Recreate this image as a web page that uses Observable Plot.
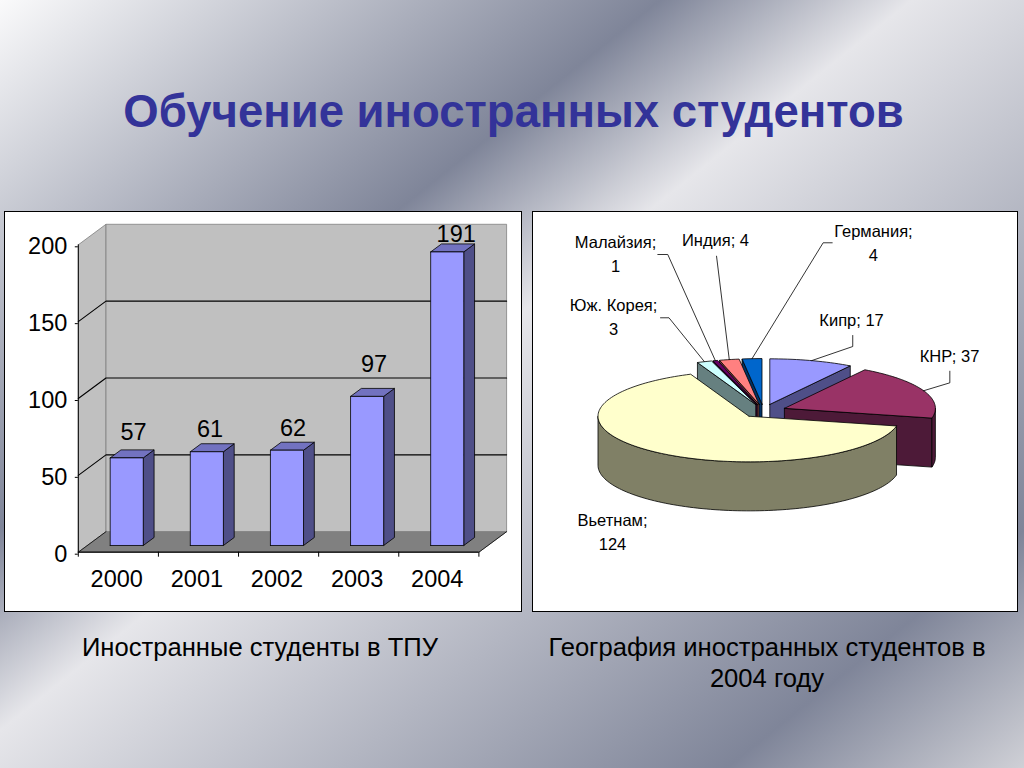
<!DOCTYPE html>
<html lang="ru"><head><meta charset="utf-8">
<script src="https://cdn.jsdelivr.net/npm/d3@7"></script>
<script src="https://cdn.jsdelivr.net/npm/@observablehq/plot@0.6"></script>
<style>
html,body{margin:0;padding:0;width:1024px;height:768px;overflow:hidden}
body{position:relative;font-family:"Liberation Sans",Arial,sans-serif;
background:linear-gradient(141.3deg,#fafafb 0%,#7f8599 33.3%,#e6e6ea 46%,#7f8599 85%,#cfd0d6 100%)}
#title{position:absolute;left:0;width:1027px;top:85px;text-align:center;font-weight:bold;font-size:45.5px;line-height:54px;color:#333399;white-space:nowrap}
.panel{position:absolute;top:211px;height:401px;box-sizing:border-box;background:#fff;border:1.5px solid #000}
#p1{left:4px;width:518px}#p2{left:532px;width:486px}
.chart{position:absolute;top:211px}.chart svg{display:block;overflow:visible;background:none}
#c1{left:4px}#c2{left:532px}
.cap{position:absolute;text-align:center;font-size:25.6px;line-height:31px;color:#000}
#cap1{left:10px;width:500px;top:632px}#cap2{left:517px;width:500px;top:632px}
</style></head><body>
<div id="title">Обучение иностранных студентов</div>
<div class="panel" id="p1"></div><div class="panel" id="p2"></div>
<div class="chart" id="c1"></div><div class="chart" id="c2"></div>
<div class="cap" id="cap1">Иностранные студенты в ТПУ</div>
<div class="cap" id="cap2">География иностранных студентов в<br>2004 году</div>
<script>
// ---- data ----
const years = [2000, 2001, 2002, 2003, 2004];
const students = [57, 61, 62, 97, 191];
const yTicks = [0, 50, 100, 150, 200];
const countries = ["Кипр", "КНР", "Вьетнам", "Юж. Корея", "Малайзия", "Индия", "Германия"];
const counts = [17, 37, 124, 3, 1, 4, 4];

const FONT = '"Liberation Sans",Arial,sans-serif';

// ---- bar chart: an oblique projection in data units ----
const DX = 0.3457, DY = 13.34;                       // full floor depth, in x and y units
const P = (x, y, d) => [x + d * DX, y + d * DY];
const n = years.length;
const face = (pts, fill, stroke, sw = 0.8) =>
  Plot.line([...pts, pts[0]], {x: d => d[0], y: d => d[1], fill, stroke, strokeWidth: sw, curve: "linear"});
const barX0 = 0.285, barW = 0.413, d0 = 0.327, d1 = 0.717;
const labelNudge = [[0.689, 21], [0.645, 18.8], [0.68, 18.7], [0.69, 25], [0.717, 15.7]];

const barMarks = [
  face([P(0, 0, 0), P(0, 0, 1), P(0, 200, 1), P(0, 200, 0)], "#c0c0c0", "#808080"),
  face([P(0, 0, 1), P(n, 0, 1), P(n, 200, 1), P(0, 200, 1)], "#c0c0c0", "#808080"),
  face([P(0, 0, 0), P(n, 0, 0), P(n, 0, 1), P(0, 0, 1)], "#808080", "#808080"),
  ...yTicks.slice(1, 4).flatMap(v => [
    Plot.line([P(0, v, 0), P(0, v, 1), P(n, v, 1)], {x: d => d[0], y: d => d[1], stroke: "#000", strokeWidth: 1.1})
  ]),
  Plot.line([P(n, 0, 0), P(n, 0, 1)], {x: d => d[0], y: d => d[1], stroke: "#111", strokeWidth: 0.9}),
  Plot.line([P(0, 0, 0), P(0, 0, 1)], {x: d => d[0], y: d => d[1], stroke: "#111", strokeWidth: 0.9}),
  ...students.flatMap((v, i) => {
    const a = i + barX0, b = a + barW;
    return [
      face([P(b, 0, d0), P(b, 0, d1), P(b, v, d1), P(b, v, d0)], "#4f4f88", "#000"),
      face([P(a, v, d0), P(b, v, d0), P(b, v, d1), P(a, v, d1)], "#7272c0", "#000"),
      face([P(a, 0, d0), P(b, 0, d0), P(b, v, d0), P(a, v, d0)], "#9999ff", "#000")
    ];
  }),
  Plot.ruleX([0], {y1: 0, y2: 200, stroke: "#000", strokeWidth: 1}),
  Plot.ruleY([0], {x1: 0, x2: n, stroke: "#000", strokeWidth: 1.2}),
  Plot.axisY({ticks: yTicks, tickSize: 3, tickPadding: 8, fontSize: 23.5, dy: 2, label: null, stroke: "#000", fill: "#000"}),
  Plot.axisX({ticks: d3.range(n + 1), tickSize: 5, tickFormat: () => "", label: null, stroke: "#000"}),
  Plot.axisX({ticks: years.map((_, i) => i + 0.48), tickSize: 0, tickPadding: 18, fontSize: 23.5, label: null,
    fill: "#000", tickFormat: t => String(years[Math.round(t - 0.48)])}),
  Plot.text(students, {x: (_, i) => i + labelNudge[i][0], y: (v, i) => v + labelNudge[i][1], text: d => String(d),
    fontSize: 23.5, fill: "#000", lineAnchor: "middle"})
];
document.getElementById("c1").append(Plot.plot({
  width: 518, height: 401, marginLeft: 73.8, marginRight: 43.6, marginTop: 33.3, marginBottom: 60.3,
  style: {fontFamily: FONT, background: "none", overflow: "visible"},
  x: {domain: [0, n], axis: null}, y: {domain: [0, 200], axis: null},
  marks: barMarks
}));

// ---- pie chart: x and y are in pie radii (one radius = a, resp. b pixels) ----
const H = 1.0746, EXPLODE = 0.15;
const topCol = ["#9999ff", "#993366", "#ffffcc", "#ccffff", "#660066", "#ff8080", "#0066cc"];
const sideCol = ["#4f4f88", "#4d1a38", "#808066", "#668080", "#330033", "#804040", "#003366"];
const total = d3.sum(counts);
let acc = 0;
const slices = counts.map((v, i) => {
  const a0 = acc / total * 2 * Math.PI; acc += v;
  const a1 = acc / total * 2 * Math.PI, m = (a0 + a1) / 2;
  return {i, v, a0, a1, m, ox: EXPLODE * Math.sin(m), oy: EXPLODE * Math.cos(m)};
});
const rim = (s, a, z = 0) => [s.ox + Math.sin(a), s.oy + Math.cos(a) - z];
const arcPts = (s, from, to, z = 0) => {
  const k = Math.max(2, Math.ceil(Math.abs(to - from) / 0.03));
  return d3.range(k + 1).map(j => rim(s, from + (to - from) * j / k, z));
};
const apex = (s, z = 0) => [s.ox, s.oy - z];
const pieMarks = [];
for (const idx of [6, 5, 4, 3, 0, 1, 2]) {
  const s = slices[idx], side = sideCol[idx];
  if (Math.sin(s.a0) < -1e-6) pieMarks.push(face([apex(s), rim(s, s.a0), rim(s, s.a0, H), apex(s, H)], side, "#000"));
  if (Math.sin(s.a1) > 1e-6) pieMarks.push(face([apex(s), rim(s, s.a1), rim(s, s.a1, H), apex(s, H)], side, "#000"));
  const f0 = Math.max(s.a0, Math.PI / 2), f1 = Math.min(s.a1, 3 * Math.PI / 2);
  if (f1 > f0) pieMarks.push(face([...arcPts(s, f0, f1), ...arcPts(s, f1, f0, H)], side, "#000"));
  pieMarks.push(face([apex(s), ...arcPts(s, s.a0, s.a1)], topCol[idx], "#000"));
}
// leader elbows and label anchors, in pie radii; each leader ends on its slice's rim
const leaderElbows = {
  0: [[0.591, 1.656], [0.591, 1.414]],
  1: [[1.234, 0.873], [1.234, 0.618]],
  3: [[-0.682, 2.044], [-0.626, 2.044]],
  4: [[-0.7, 3.432], [-0.634, 3.432]],
  5: [[-0.311, 3.395]],
  6: [[0.455, 3.689], [0.395, 3.689]]
};
for (const k in leaderElbows) {
  const s = slices[k];
  pieMarks.push(Plot.line([...leaderElbows[k], rim(s, s.m)], {x: d => d[0], y: d => d[1], stroke: "#000", strokeWidth: 0.8}));
}
const labelAnchor = [[0.583, 1.985], [1.232, 1.195], [-1, -2.401], [-0.993, 2.314], [-0.98, 3.695], [-0.318, 3.739], [0.728, 3.936]];
const twoLines = new Set([2, 3, 4, 6]);
const lineStep = 0.54;
const labelRows = countries.flatMap((c, i) => twoLines.has(i)
  ? [{t: c + ";", p: labelAnchor[i]}, {t: String(counts[i]), p: [labelAnchor[i][0], labelAnchor[i][1] - lineStep]}]
  : [{t: c + "; " + counts[i], p: labelAnchor[i]}]);
pieMarks.push(Plot.text(labelRows, {x: d => d.p[0], y: d => d.p[1], text: "t", fontSize: 16.5, fill: "#000", lineAnchor: "middle"}));

document.getElementById("c2").append(Plot.plot({
  width: 486, height: 401, marginLeft: 80, marginRight: 104, marginTop: 153.9, marginBottom: 155.9,
  style: {fontFamily: FONT, background: "none", overflow: "visible"},
  x: {domain: [-1, 1], axis: null}, y: {domain: [-1, 1], axis: null},
  marks: pieMarks
}));
</script>
</body></html>
